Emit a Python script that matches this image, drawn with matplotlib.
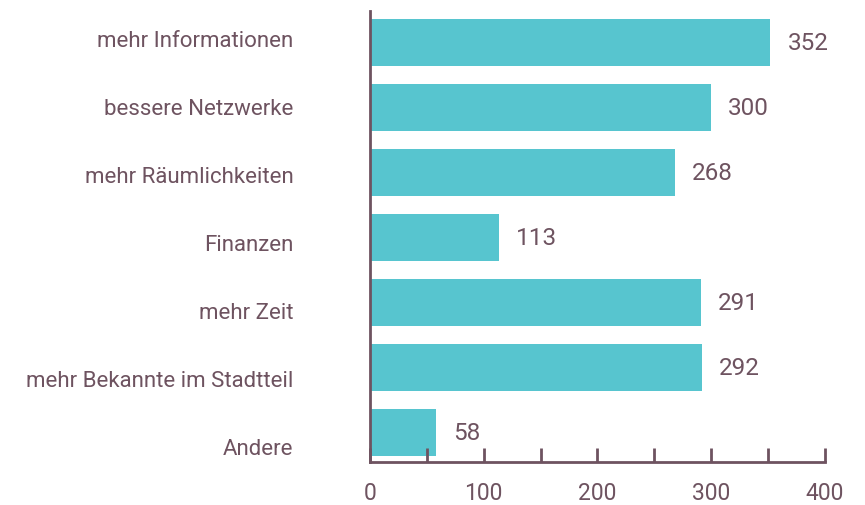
import matplotlib.pyplot as plt
from matplotlib.ticker import MultipleLocator

categories = ['mehr Informationen', 'bessere Netzwerke', 'mehr Räumlichkeiten',
              'Finanzen', 'mehr Zeit', 'mehr Bekannte im Stadtteil', 'Andere']
values = [352, 300, 268, 113, 291, 292, 58]

bar_color = '#57C5CF'
text_color = '#6E5360'

plt.rcParams['font.family'] = ['Roboto', 'DejaVu Sans']

fig = plt.figure(figsize=(8.65, 5.06), dpi=100)
ax = fig.add_axes([0.4277, 0.085, 0.5261, 0.8913])

pos = list(range(len(categories)))
ax.barh(pos, values, height=0.723, color=bar_color)

# value labels just right of each bar
for p, v in zip(pos, values):
    ax.text(v + 15, p, str(v), va='center', ha='left', fontsize=17.5, color=text_color)

# category labels are spread a little wider than the bars
n = len(categories)
label_pos = [-0.07 + i * (6.27 / (n - 1)) for i in range(n)]
ax.set_yticks(label_pos)
ax.set_yticklabels(categories)
ax.set_ylim(6.45, -0.48)
ax.set_xlim(0, 400)
ax.xaxis.set_major_locator(MultipleLocator(100))
ax.xaxis.set_minor_locator(MultipleLocator(50))

for side in ['top', 'right']:
    ax.spines[side].set_visible(False)
for side in ['left', 'bottom']:
    ax.spines[side].set_color(text_color)
    ax.spines[side].set_linewidth(2)

ax.tick_params(axis='y', length=0, pad=55, labelsize=16, labelcolor=text_color)
ax.tick_params(axis='x', which='both', direction='in', length=10, width=2,
               color=text_color, pad=14, labelsize=16.5, labelcolor=text_color)

fig.savefig('out.png', dpi=100)
